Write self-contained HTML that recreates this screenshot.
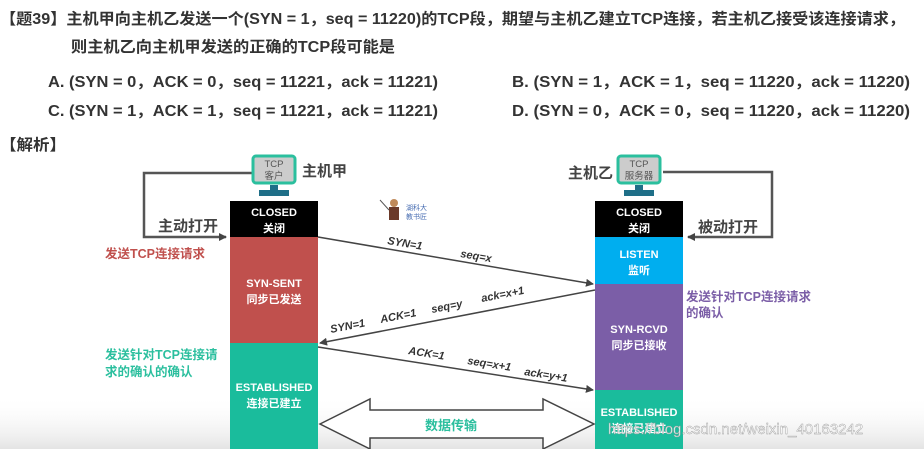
<!DOCTYPE html>
<html><head><meta charset="utf-8"><style>
html,body{margin:0;padding:0;background:#fff;}
body{width:924px;height:449px;overflow:hidden;position:relative;font-family:"Liberation Sans","Noto Sans CJK SC",sans-serif;}
svg{position:absolute;left:0;top:0;}
</style></head><body>
<svg width="924" height="449" viewBox="0 0 924 449" xmlns="http://www.w3.org/2000/svg" font-family="Liberation Sans, Noto Sans CJK SC, sans-serif">
<defs>
<linearGradient id="bg" x1="0" y1="0" x2="0" y2="1">
<stop offset="0" stop-color="#fff" stop-opacity="0"/><stop offset="1" stop-color="#e4e4e4"/>
</linearGradient>
<marker id="ah" markerWidth="8" markerHeight="8" refX="7" refY="4" orient="auto" markerUnits="userSpaceOnUse"><path d="M0,0 L8,4 L0,8 Z" fill="#444"/></marker>
</defs>
<rect x="0" y="395" width="924" height="54" fill="url(#bg)"/>
<g font-weight="bold" fill="#333" font-size="15.5">
<text x="0" y="24" textLength="905" lengthAdjust="spacingAndGlyphs">【题39】主机甲向主机乙发送一个(SYN = 1，seq = 11220)的TCP段，期望与主机乙建立TCP连接，若主机乙接受该连接请求，</text>
<text x="71" y="52" textLength="324" lengthAdjust="spacingAndGlyphs">则主机乙向主机甲发送的正确的TCP段可能是</text>
<text x="48" y="87" textLength="390" lengthAdjust="spacingAndGlyphs">A. (SYN = 0，ACK = 0，seq = 11221，ack = 11221)</text>
<text x="512" y="87" textLength="398" lengthAdjust="spacingAndGlyphs">B. (SYN = 1，ACK = 1，seq = 11220，ack = 11220)</text>
<text x="48" y="116" textLength="390" lengthAdjust="spacingAndGlyphs">C. (SYN = 1，ACK = 1，seq = 11221，ack = 11221)</text>
<text x="512" y="116" textLength="398" lengthAdjust="spacingAndGlyphs">D. (SYN = 0，ACK = 0，seq = 11220，ack = 11220)</text>
<text x="0" y="150" textLength="66" lengthAdjust="spacingAndGlyphs">【解析】</text>
</g>
<!-- loops -->
<polyline points="252,173 144,173 144,237 226,237" fill="none" stroke="#555" stroke-width="2.5" marker-end="url(#ah)"/>
<polyline points="663,172 772,172 772,237 688,237" fill="none" stroke="#555" stroke-width="2.5" marker-end="url(#ah)"/>
<!-- computers -->
<rect x="253" y="156" width="42" height="27" rx="3" fill="#ccc" stroke="#2bbf9e" stroke-width="3"/>
<text x="274" y="167" font-size="9.5" fill="#555" text-anchor="middle">TCP</text>
<text x="274" y="179" font-size="9.5" fill="#555" text-anchor="middle">客户</text>
<rect x="270" y="185" width="8" height="5" fill="#1f6f88"/><rect x="259" y="190" width="30" height="6" fill="#1f6f88"/>
<rect x="618" y="156" width="42" height="27" rx="3" fill="#ccc" stroke="#2bbf9e" stroke-width="3"/>
<text x="639" y="167" font-size="9.5" fill="#555" text-anchor="middle">TCP</text>
<text x="639" y="179" font-size="9.5" fill="#555" text-anchor="middle">服务器</text>
<rect x="635" y="185" width="8" height="5" fill="#1f6f88"/><rect x="624" y="190" width="30" height="6" fill="#1f6f88"/>
<g font-weight="bold" font-size="15" fill="#444">
<text x="302" y="176">主机甲</text>
<text x="568" y="178">主机乙</text>
<text x="158" y="231">主动打开</text>
<text x="698" y="232">被动打开</text>
</g>
<g font-weight="bold" font-size="12.5">
<text x="105" y="258" fill="#c0504d">发送TCP连接请求</text>
<text x="105" y="359" fill="#2bbf9e">发送针对TCP连接请</text>
<text x="105" y="376" fill="#2bbf9e">求的确认的确认</text>
<text x="686" y="301" fill="#7b5ea7">发送针对TCP连接请求</text>
<text x="686" y="317" fill="#7b5ea7">的确认</text>
</g>
<!-- left column -->
<rect x="230" y="201" width="88" height="36" fill="#000"/>
<rect x="230" y="237" width="88" height="106" fill="#c0504d"/>
<rect x="230" y="343" width="88" height="106" fill="#1abc9c"/>
<!-- right column -->
<rect x="595" y="201" width="88" height="36" fill="#000"/>
<rect x="595" y="237" width="88" height="47" fill="#00aeef"/>
<rect x="595" y="284" width="88" height="106" fill="#7b5ea7"/>
<rect x="595" y="390" width="88" height="59" fill="#1abc9c"/>
<g fill="#fff" font-weight="bold" font-size="11" text-anchor="middle">
<text x="274" y="216">CLOSED</text><text x="274" y="232">关闭</text>
<text x="274" y="287">SYN-SENT</text><text x="274" y="303">同步已发送</text>
<text x="274" y="391">ESTABLISHED</text><text x="274" y="407">连接已建立</text>
<text x="639" y="216">CLOSED</text><text x="639" y="232">关闭</text>
<text x="639" y="258">LISTEN</text><text x="639" y="274">监听</text>
<text x="639" y="333">SYN-RCVD</text><text x="639" y="349">同步已接收</text>
<text x="639" y="416">ESTABLISHED</text><text x="639" y="432">连接已建立</text>
</g>
<!-- message arrows -->
<line x1="318" y1="237" x2="593" y2="284" stroke="#444" stroke-width="1.5" marker-end="url(#ah)"/>
<line x1="595" y1="290" x2="320" y2="343" stroke="#444" stroke-width="1.5" marker-end="url(#ah)"/>
<line x1="318" y1="347" x2="593" y2="390" stroke="#444" stroke-width="1.5" marker-end="url(#ah)"/>
<g font-size="11" fill="#333" font-style="italic" font-weight="bold">
<text x="387" y="244" transform="rotate(9.5 387 244)">SYN=1</text>
<text x="460" y="257" transform="rotate(9.5 460 257)">seq=x</text>
<text x="331" y="333" transform="rotate(-11 331 333)">SYN=1</text>
<text x="381" y="323" transform="rotate(-11 381 323)">ACK=1</text>
<text x="432" y="313" transform="rotate(-11 432 313)">seq=y</text>
<text x="482" y="302" transform="rotate(-11 482 302)">ack=x+1</text>
<text x="408" y="354" transform="rotate(9 408 354)">ACK=1</text>
<text x="467" y="364" transform="rotate(9 467 364)">seq=x+1</text>
<text x="524" y="375" transform="rotate(9 524 375)">ack=y+1</text>
</g>
<!-- mascot -->
<circle cx="394" cy="203" r="4" fill="#c08a5a"/>
<rect x="389" y="207" width="10" height="13" fill="#6b3a2a"/>
<line x1="380" y1="200" x2="389" y2="210" stroke="#555" stroke-width="1"/>
<text x="406" y="210" font-size="7" fill="#4a6fb3">湖科大</text>
<text x="406" y="219" font-size="7" fill="#4a6fb3">教书匠</text>
<!-- data transfer arrow -->
<path d="M320,424 L370,399 L370,410 L543,410 L543,399 L594,424 L543,449 L543,438 L370,438 L370,449 Z" fill="#fff" stroke="#444" stroke-width="1.5"/>
<text x="425" y="430" font-size="13" font-weight="bold" fill="#2bbf9e">数据传输</text>
<text x="608" y="434" font-size="15" fill="#fff" fill-opacity="0.85" stroke="#999" stroke-width="0.4">https://blog.csdn.net/weixin_40163242</text>
</svg>
</body></html>
